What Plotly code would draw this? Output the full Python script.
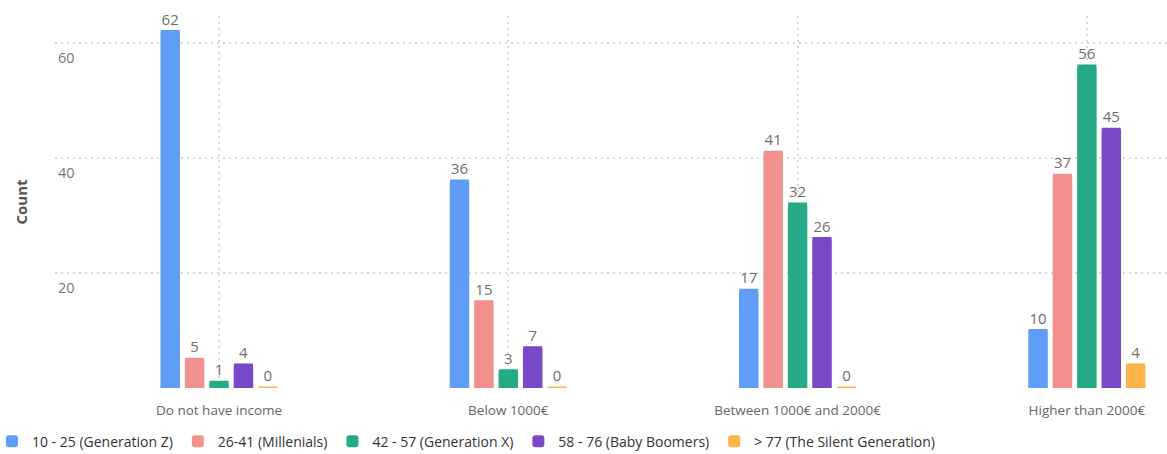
import plotly.graph_objects as go

categories = ["Do not have income", "Below 1000€", "Between 1000€ and 2000€", "Higher than 2000€"]
series_names = ["10 - 25 (Generation Z)", "26-41 (Millenials)", "42 - 57 (Generation X)",
                "58 - 76 (Baby Boomers)", "> 77 (The Silent Generation)"]
gen_z = [62, 36, 17, 10]
millenials = [5, 15, 41, 37]
gen_x = [1, 3, 32, 56]
boomers = [4, 7, 26, 45]
silent = [0, 0, 0, 4]
colors = ["#5F9DF7", "#F1908D", "#25A986", "#7749C8", "#FDB44B"]
y_ticks = [0, 20, 40, 60]
y_ticktext = ["", "20", "40", "60"]

fig = go.Figure()
for name, vals, col in zip(series_names, [gen_z, millenials, gen_x, boomers, silent], colors):
    fig.add_trace(go.Bar(
        x=list(range(len(categories))), y=vals, name=name,
        marker=dict(color=col, line=dict(width=0), cornerradius=2),
        # thin baseline stub so that zero-valued bars stay visible, as in the original
        error_y=dict(type="constant", value=0, color=col, thickness=3, width=9.5),
        text=vals, textposition="outside", cliponaxis=False,
        textfont=dict(color="#6e6e6e", size=15),
    ))

fig.update_layout(
    width=1167, height=454,
    margin=dict(l=55, r=0, t=16, b=66, autoexpand=False),
    paper_bgcolor="white", plot_bgcolor="white",
    font=dict(family="Open Sans", color="#555"),
    barmode="group", bargap=0.578, bargroupgap=0.2,
    showlegend=True,
    legend=dict(orientation="h", x=-0.0567, xanchor="left", y=-0.101, yanchor="top",
                font=dict(size=14, color="#333"), itemwidth=30, traceorder="normal"),
)
fig.update_xaxes(
    range=[-0.567, 3.277], tickvals=list(range(len(categories))), ticktext=categories,
    showgrid=True, gridcolor="#d8d8d8", griddash="2px,4px", gridwidth=2,
    zeroline=False, showline=False, ticks="", ticklabelstandoff=12,
    tickfont=dict(size=13.5, color="#666"),
)
fig.update_yaxes(
    range=[0, 64.7], tickvals=y_ticks, ticktext=y_ticktext,
    showgrid=True, gridcolor="#d8d8d8", griddash="2px,4px", gridwidth=2,
    zeroline=False, showline=False, ticks="",
    ticklabelposition="inside", ticklabelshift=15, ticklabelstandoff=0,
    tickfont=dict(size=14.5, color="#777"),
    title=dict(text="<b>Count</b>", font=dict(size=15, color="#555"), standoff=26),
)
fig.write_html("out.html")
